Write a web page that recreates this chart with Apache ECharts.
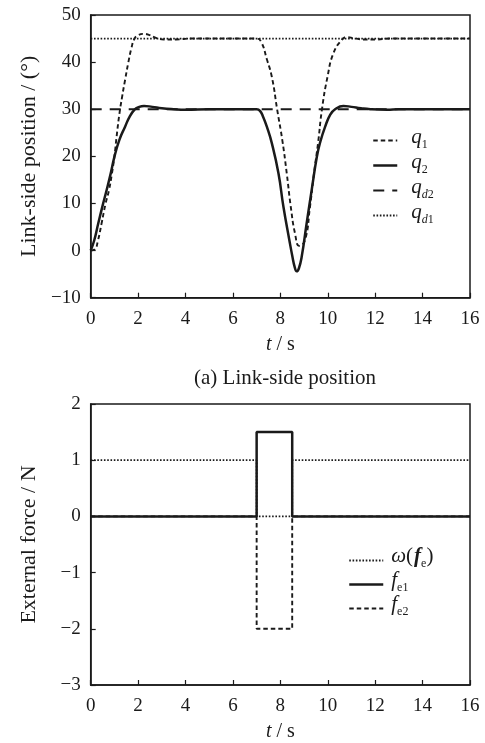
<!DOCTYPE html>
<html>
<head>
<meta charset="utf-8">
<script src="https://cdn.jsdelivr.net/npm/echarts@6/dist/echarts.min.js"></script>
<style>
html,body{margin:0;padding:0;background:#fff;}
#c{width:485px;height:743px;}
</style>
</head>
<body>
<div id="c"></div>
<script>
// ---- data ----
const tQ1 = [0, 0.18, 0.3, 0.46, 0.62, 0.77, 0.9, 1.0, 1.1, 1.21, 1.33, 1.45, 1.59, 1.72, 1.84, 2.0, 2.22, 2.45, 2.78, 3.1, 3.6, 4.2, 7.0, 7.2, 7.43, 7.64, 7.87, 8.09, 8.27, 8.44, 8.62, 8.8, 9.04, 9.25, 9.42, 9.6, 9.75, 9.99, 10.24, 10.59, 10.8, 11.1, 11.5, 12.0, 12.6, 16];
const vQ1 = [0, 0.3, 2.0, 5.8, 9.8, 12.8, 16.5, 20.0, 24.5, 29.0, 32.8, 36.2, 40.0, 43.0, 44.9, 45.7, 46.0, 45.8, 45.1, 44.8, 44.8, 45.0, 45.0, 44.2, 40.6, 36.9, 29.8, 23.2, 16.4, 9.3, 3.6, 1.0, 2.2, 9.3, 16.4, 23.2, 29.8, 36.9, 41.9, 44.7, 45.3, 45.1, 44.8, 44.8, 45.0, 45.0];
const tQ2 = [0, 0.15, 0.32, 0.5, 0.67, 0.85, 1.0, 1.21, 1.45, 1.65, 1.85, 2.0, 2.25, 2.6, 3.0, 3.5, 4.0, 5.0, 7.0, 7.15, 7.28, 7.43, 7.64, 7.92, 8.13, 8.38, 8.51, 8.6, 8.69, 8.78, 8.9, 9.11, 9.32, 9.54, 9.68, 9.89, 10.1, 10.31, 10.66, 11.0, 11.4, 11.8, 12.5, 13.0, 16];
const vQ2 = [0, 2.2, 5.8, 9.5, 12.8, 16.5, 19.9, 23.5, 26.3, 28.5, 29.9, 30.4, 30.7, 30.5, 30.2, 30.0, 29.9, 30.0, 30.0, 29.6, 28.3, 26.3, 22.8, 16.4, 9.3, 2.2, -1.3, -3.4, -4.4, -3.8, -1.3, 5.8, 12.8, 19.9, 23.0, 26.3, 28.8, 30.0, 30.7, 30.5, 30.2, 30.0, 29.9, 30.0, 30.0];
const tQd = [0, 16];
const vQd1 = [45, 45];
const vQd2 = [30, 30];

const tF = [0, 7, 7, 8.5, 8.5, 16];
const vW = [1, 1, 0, 0, 1, 1];
const vFe1 = [0, 0, 1.5, 1.5, 0, 0];
const vFe2 = [0, 0, -2, -2, 0, 0];

const xTicks = [0, 2, 4, 6, 8, 10, 12, 14, 16];
const yTicks1 = [-10, 0, 10, 20, 30, 40, 50];
const yTicks2 = [-3, -2, -1, 0, 1, 2];

const caption = '(a) Link-side position';
const yName1 = 'Link-side position / (°)';
const yName2 = 'External force / N';

// ---- helpers ----
const pairs = (t, v) => t.map((x, i) => [x, v[i]]);
const FONT = "'Liberation Serif', 'Times New Roman', serif";
const INK = '#1a1a1a';
const minus = v => String(v).replace('-', '\u2212');

const mkRich = (lh, padL) => ({
  q: {fontFamily: FONT, fontStyle: 'italic', fontSize: 21, color: INK, verticalAlign: 'bottom', padding: [0, 0, 3, padL], lineHeight: lh},
  s: {fontFamily: FONT, fontSize: 12, color: INK, verticalAlign: 'bottom', lineHeight: lh},
  sd: {fontFamily: FONT, fontStyle: 'italic', fontSize: 12, color: INK, verticalAlign: 'bottom', lineHeight: lh},
  w: {fontFamily: FONT, fontStyle: 'italic', fontSize: 21, color: INK, verticalAlign: 'bottom', padding: [0, 0, 3, padL], lineHeight: lh},
  f: {fontFamily: FONT, fontStyle: 'italic', fontSize: 21, color: INK, verticalAlign: 'bottom', padding: [0, 0, 3, padL], lineHeight: lh},
  fb: {fontFamily: FONT, fontStyle: 'italic', fontWeight: 'bold', fontSize: 21, color: INK, verticalAlign: 'bottom', padding: [0, 0, 3, 1], lineHeight: lh},
  p: {fontFamily: FONT, fontSize: 21, color: INK, verticalAlign: 'bottom', padding: [0, 0, 3, 0], lineHeight: lh},
  se: {fontFamily: FONT, fontSize: 12, color: INK, verticalAlign: 'bottom', lineHeight: lh}
});
const legendText = {
  q1: '{q|q}{s|1}',
  q2: '{q|q}{s|2}',
  qd2: '{q|q}{sd|d}{s|2}',
  qd1: '{q|q}{sd|d}{s|1}',
  w: '{w|\u03C9}{p|(}{fb|f}{se|e}{p|)}',
  fe1: '{f|f}{se|e1}',
  fe2: '{f|f}{se|e2}'
};

const axisCommon = {
  axisLine: {show: true, onZero: false, lineStyle: {color: INK, width: 1.5}},
  axisTick: {show: true, inside: true, length: 5, lineStyle: {color: INK, width: 1.2}},
  splitLine: {show: false},
  axisLabel: {fontFamily: FONT, fontSize: 19, color: INK, formatter: minus}
};
const xAxisBase = (gi) => Object.assign({}, axisCommon, {
  type: 'value', gridIndex: gi, min: xTicks[0], max: xTicks[xTicks.length - 1], interval: xTicks[1] - xTicks[0],
  name: '{i|t} / s', nameLocation: 'middle', nameGap: 37,
  nameTextStyle: {fontFamily: FONT, fontSize: 20, color: INK, rich: {i: {fontFamily: FONT, fontStyle: 'italic', fontSize: 20, color: INK}}},
  axisLabel: Object.assign({}, axisCommon.axisLabel, {margin: 12})
});
const yAxisBase = (gi, ticks, name) => Object.assign({}, axisCommon, {
  type: 'value', gridIndex: gi, min: ticks[0], max: ticks[ticks.length - 1], interval: ticks[1] - ticks[0],
  name: name, nameLocation: 'middle', nameGap: 50,
  nameTextStyle: {fontFamily: FONT, fontSize: 22, color: INK},
  axisLabel: Object.assign({}, axisCommon.axisLabel, {margin: 10})
});

const line = (name, xi, data, width, type, z) => ({
  name, type: 'line', xAxisIndex: xi, yAxisIndex: xi, data, symbol: 'none', showSymbol: false, z: z || 2,
  lineStyle: {color: INK, width, type}, itemStyle: {color: INK}, animation: false
});
const curve = (name, xi, data, width, type, z) => Object.assign(line(name, xi, data, width, type, z), {smooth: 0.5});

const noSym = {opacity: 0};
const DOT = [1.6, 1.7];
const DASH = [4.5, 3];

const chart = echarts.init(document.getElementById('c'), null, {renderer: 'canvas'});
chart.setOption({
  backgroundColor: '#fff',
  animation: false,
  title: {
    text: caption, left: 280, top: 363, textAlign: 'center',
    textStyle: {fontFamily: FONT, fontSize: 21, fontWeight: 'normal', color: INK}
  },
  grid: [
    {left: 90.7, top: 15, width: 379.3, height: 282.7, show: true, borderColor: INK, borderWidth: 1.5, backgroundColor: 'transparent'},
    {left: 90.7, top: 404, width: 379.3, height: 283.7, show: true, borderColor: INK, borderWidth: 1.5, backgroundColor: 'transparent'}
  ],
  xAxis: [xAxisBase(0), xAxisBase(1)],
  yAxis: [yAxisBase(0, yTicks1, yName1), yAxisBase(1, yTicks2, yName2)],
  legend: [
    {
      orient: 'vertical', left: 372, top: 127, padding: 0, itemWidth: 24, itemHeight: 14, itemGap: 1,
      selectedMode: false, itemStyle: noSym,
      data: [
        {name: 'q1', lineStyle: {width: 1.9}},
        {name: 'q2', lineStyle: {width: 2.5}},
        {name: 'qd2', lineStyle: {width: 2.2}},
        {name: 'qd1', lineStyle: {width: 1.8}}
      ],
      formatter: n => legendText[n],
      textStyle: {rich: mkRich(21, 9)}
    },
    {
      orient: 'vertical', left: 348, top: 546, padding: 0, itemWidth: 34, itemHeight: 14, itemGap: 0,
      selectedMode: false, itemStyle: noSym,
      data: [
        {name: 'w', lineStyle: {width: 1.8}},
        {name: 'fe1', lineStyle: {width: 2.5}},
        {name: 'fe2', lineStyle: {width: 1.9}}
      ],
      formatter: n => legendText[n],
      textStyle: {rich: mkRich(19, 3)}
    }
  ],
  series: [
    line('qd1', 0, pairs(tQd, vQd1), 1.8, DOT, 2),
    line('qd2', 0, pairs(tQd, vQd2), 2.2, [11, 8], 2),
    curve('q1', 0, pairs(tQ1, vQ1), 1.9, DASH, 3),
    curve('q2', 0, pairs(tQ2, vQ2), 2.5, 'solid', 4),
    line('w', 1, pairs(tF, vW), 1.8, DOT, 2),
    line('fe2', 1, pairs(tF, vFe2), 1.9, DASH, 3),
    line('fe1', 1, pairs(tF, vFe1), 2.5, 'solid', 4)
  ]
});
</script>
</body>
</html>
